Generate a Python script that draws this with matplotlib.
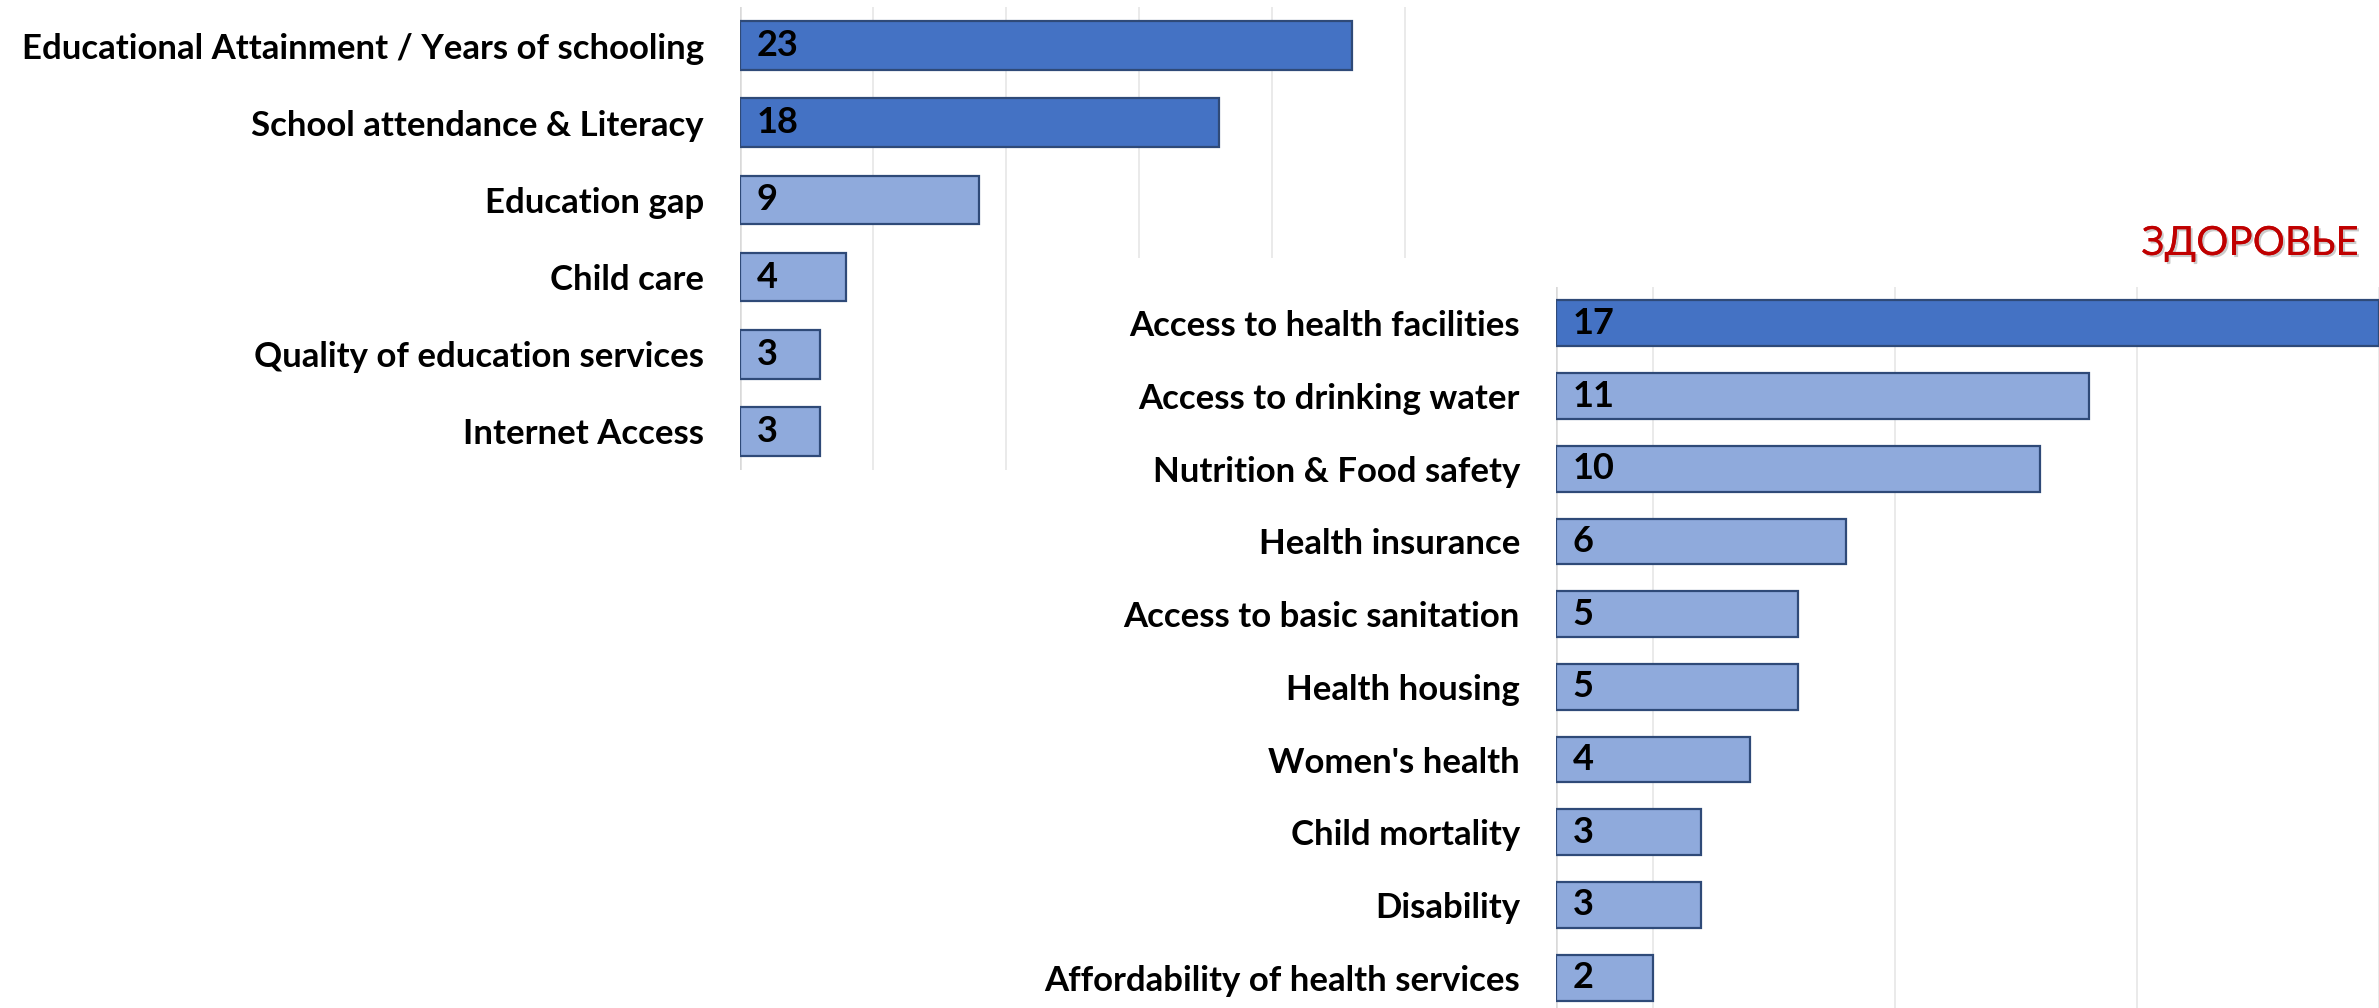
import matplotlib
matplotlib.use('Agg')
import matplotlib.pyplot as plt
import matplotlib.patheffects as pe
from matplotlib.patches import Rectangle

# data
edu_labels = ['Educational Attainment / Years of schooling', 'School attendance & Literacy',
              'Education gap', 'Child care', 'Quality of education services', 'Internet Access']
edu_values = [23, 18, 9, 4, 3, 3]

health_labels = ['Access to health facilities', 'Access to drinking water', 'Nutrition & Food safety',
                 'Health insurance', 'Access to basic sanitation', 'Health housing', "Women's health",
                 'Child mortality', 'Disability', 'Affordability of health services']
health_values = [17, 11, 10, 6, 5, 5, 4, 3, 3, 2]

title_health = 'ЗДОРОВЬЕ'

DARK = '#4472C4'
LIGHT = '#8FAADC'
EDGE = '#2F4A78'
GRID = '#E8E8E8'
FONT = ['Lato', 'DejaVu Sans']

plt.rcParams['font.family'] = FONT

W, H = 2379, 1008
fig = plt.figure(figsize=(W / 100, H / 100), dpi=100)


def px(x0, y0, x1, y1):
    # pixel box (top-left origin) -> figure fraction rect
    return [x0 / W, 1 - y1 / H, (x1 - x0) / W, (y1 - y0) / H]


def bars(ax, labels, values, n_dark, xmax, grid_ticks):
    n = len(values)
    ypos = list(range(n))
    colors = [DARK if i < n_dark else LIGHT for i in range(n)]
    ax.barh(ypos, values, height=0.63, color=colors, edgecolor=EDGE, linewidth=1.6, zorder=3)
    ax.set_ylim(n - 0.5, -0.5)
    ax.set_xlim(0, xmax)
    ax.set_yticks(ypos)
    ax.set_yticklabels(labels, fontsize=25, fontweight='bold')
    ax.tick_params(axis='y', length=0, pad=26)
    ax.set_xticks(grid_ticks)
    ax.tick_params(axis='x', length=0, labelbottom=False)
    ax.grid(axis='x', color=GRID, linewidth=1.3, zorder=0)
    ax.axvline(0, color='#D9D9D9', linewidth=1.8, zorder=1)
    for s in ax.spines.values():
        s.set_visible(False)
    for i, v in enumerate(values):
        ax.annotate(str(v), (0, i), xytext=(12, 0), textcoords='offset points',
                    va='center', ha='left', fontsize=26, fontweight='bold', color='black', zorder=4)


# education chart (top left)
ax1 = fig.add_axes(px(740, 7, 1418, 470))
ax1.set_zorder(0)
bars(ax1, edu_labels, edu_values, 2, 25.5, [5, 10, 15, 20, 25])

# white panel of the health chart laid over the first one
panel = Rectangle((1030 / W, 0), 1 - 1030 / W, 1 - 258 / H, transform=fig.transFigure,
                  facecolor='white', edgecolor='none', zorder=0.5)
fig.add_artist(panel)

# health chart (bottom right)
ax2 = fig.add_axes(px(1556, 287, 2379, 1014))
ax2.set_zorder(1)
bars(ax2, health_labels, health_values, 1, (2379 - 1556) / 49.3, [2, 7, 12, 17])

t = fig.text(2358 / W, 1 - 255 / H, title_health, ha='right', va='baseline',
             fontsize=29, color='#C00000', zorder=5)
t.set_path_effects([pe.withSimplePatchShadow(offset=(1.5, -1.5), shadow_rgbFace='#999999', alpha=0.5),
                    pe.Normal()])

fig.savefig('out.png', dpi=100)
